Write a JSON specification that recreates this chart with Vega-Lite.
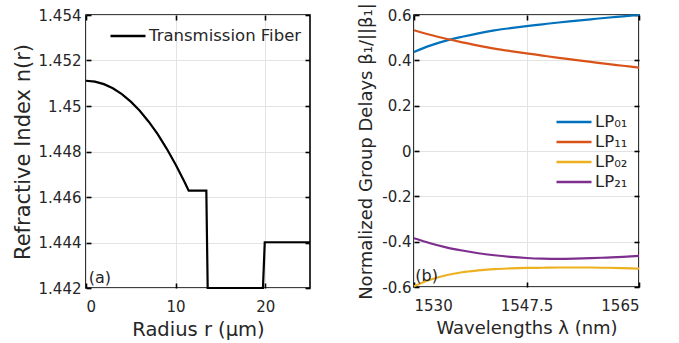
{
  "$schema": "https://vega.github.io/schema/vega-lite/v6.json",
  "padding": {"left": 11, "top": 1, "right": 0, "bottom": 0},
  "background": "white",
  "spacing": 40,
  "resolve": {"scale": {"color": "independent"}, "legend": {"color": "independent"}},
  "config": {
    "font": "DejaVu Sans",
    "view": {"stroke": "#000000", "strokeWidth": 1.6},
    "axis": {
      "labelFont": "DejaVu Sans",
      "labelFontSize": 15,
      "labelColor": "#262626",
      "titleFont": "DejaVu Sans",
      "titleFontSize": 18,
      "titleFontWeight": "normal",
      "titleColor": "#262626",
      "domain": false,
      "tickColor": "#000000",
      "tickSize": -5,
      "tickWidth": 1.6,
      "gridColor": "#e3e3e3",
      "gridWidth": 1
    },
    "axisX": {"labelPadding": 16, "titlePadding": 6},
    "axisY": {"labelPadding": 10, "titlePadding": 6},
    "legend": {
      "orient": "none",
      "title": null,
      "symbolType": "stroke",
      "symbolSize": 1225,
      "symbolStrokeWidth": 2.5,
      "clipHeight": 20,
      "rowPadding": 0,
      "labelFont": "DejaVu Sans",
      "labelFontSize": 16.5,
      "labelColor": "#262626",
      "labelOffset": 2
    }
  },
  "hconcat": [
    {
      "width": 224,
      "height": 273,
      "resolve": {"axis": {"x": "independent", "y": "independent"}},
      "layer": [
        {
          "data": {"values": [
            {"r": 0, "n": 1.45111, "series": "Transmission Fiber"},
            {"r": 1, "n": 1.45107, "series": "Transmission Fiber"},
            {"r": 2, "n": 1.45096, "series": "Transmission Fiber"},
            {"r": 3, "n": 1.45078, "series": "Transmission Fiber"},
            {"r": 4, "n": 1.45052, "series": "Transmission Fiber"},
            {"r": 5, "n": 1.45019, "series": "Transmission Fiber"},
            {"r": 6, "n": 1.44979, "series": "Transmission Fiber"},
            {"r": 7, "n": 1.44931, "series": "Transmission Fiber"},
            {"r": 8, "n": 1.44876, "series": "Transmission Fiber"},
            {"r": 9, "n": 1.44813, "series": "Transmission Fiber"},
            {"r": 10, "n": 1.44743, "series": "Transmission Fiber"},
            {"r": 11, "n": 1.44666, "series": "Transmission Fiber"},
            {"r": 11.46, "n": 1.44628, "series": "Transmission Fiber"},
            {"r": 13.43, "n": 1.44628, "series": "Transmission Fiber"},
            {"r": 13.58, "n": 1.442, "series": "Transmission Fiber"},
            {"r": 19.75, "n": 1.442, "series": "Transmission Fiber"},
            {"r": 19.95, "n": 1.44401, "series": "Transmission Fiber"},
            {"r": 25, "n": 1.44401, "series": "Transmission Fiber"}
          ]},
          "mark": {"type": "line", "strokeWidth": 2.2, "strokeJoin": "miter"},
          "encoding": {
            "x": {"field": "r", "type": "quantitative", "scale": {"domain": [0, 25], "nice": false, "zero": false},
                  "axis": {"values": [0, 10, 20], "title": "Radius r (μm)", "titleFontSize": 19.5, "grid": true}},
            "y": {"field": "n", "type": "quantitative", "scale": {"domain": [1.442, 1.454], "nice": false, "zero": false},
                  "axis": {"values": [1.442, 1.444, 1.446, 1.448, 1.45, 1.452, 1.454], "labelExpr": "format(datum.value, '.4~f')", "title": "Refractive Index n(r)", "titleFontSize": 21, "titlePadding": 5, "grid": true}},
            "color": {"field": "series", "type": "nominal", "scale": {"range": ["#000000"]},
                      "legend": {"legendX": 23, "legendY": 11}}
          }
        },
        {
          "data": {"values": [{"r": 0.3, "n": 1.4421, "label": "(a)"}]},
          "mark": {"type": "text", "align": "left", "baseline": "bottom", "fontSize": 16, "color": "#262626"},
          "encoding": {
            "x": {"field": "r", "type": "quantitative", "axis": {"orient": "top", "values": [0, 10, 20], "labels": false, "title": null, "grid": false}},
            "y": {"field": "n", "type": "quantitative", "axis": {"orient": "right", "values": [1.442, 1.444, 1.446, 1.448, 1.45, 1.452, 1.454], "labels": false, "title": null, "grid": false}},
            "text": {"field": "label"}
          }
        }
      ]
    },
    {
      "width": 225,
      "height": 272,
      "resolve": {"axis": {"x": "independent", "y": "independent"}},
      "layer": [
        {
          "data": {"values": [
            {"lambda": 1530, "mode": "LP₀₁", "d": 0.437},
            {"lambda": 1532.5, "mode": "LP₀₁", "d": 0.465},
            {"lambda": 1535, "mode": "LP₀₁", "d": 0.487},
            {"lambda": 1537.5, "mode": "LP₀₁", "d": 0.504},
            {"lambda": 1540, "mode": "LP₀₁", "d": 0.519},
            {"lambda": 1542.5, "mode": "LP₀₁", "d": 0.532},
            {"lambda": 1545, "mode": "LP₀₁", "d": 0.542},
            {"lambda": 1547.5, "mode": "LP₀₁", "d": 0.551},
            {"lambda": 1550, "mode": "LP₀₁", "d": 0.559},
            {"lambda": 1552.5, "mode": "LP₀₁", "d": 0.567},
            {"lambda": 1555, "mode": "LP₀₁", "d": 0.574},
            {"lambda": 1557.5, "mode": "LP₀₁", "d": 0.581},
            {"lambda": 1560, "mode": "LP₀₁", "d": 0.588},
            {"lambda": 1562.5, "mode": "LP₀₁", "d": 0.594},
            {"lambda": 1565, "mode": "LP₀₁", "d": 0.600},
            {"lambda": 1530, "mode": "LP₁₁", "d": 0.533},
            {"lambda": 1532.5, "mode": "LP₁₁", "d": 0.513},
            {"lambda": 1535, "mode": "LP₁₁", "d": 0.495},
            {"lambda": 1537.5, "mode": "LP₁₁", "d": 0.479},
            {"lambda": 1540, "mode": "LP₁₁", "d": 0.465},
            {"lambda": 1542.5, "mode": "LP₁₁", "d": 0.452},
            {"lambda": 1545, "mode": "LP₁₁", "d": 0.441},
            {"lambda": 1547.5, "mode": "LP₁₁", "d": 0.431},
            {"lambda": 1550, "mode": "LP₁₁", "d": 0.421},
            {"lambda": 1552.5, "mode": "LP₁₁", "d": 0.411},
            {"lambda": 1555, "mode": "LP₁₁", "d": 0.402},
            {"lambda": 1557.5, "mode": "LP₁₁", "d": 0.393},
            {"lambda": 1560, "mode": "LP₁₁", "d": 0.384},
            {"lambda": 1562.5, "mode": "LP₁₁", "d": 0.376},
            {"lambda": 1565, "mode": "LP₁₁", "d": 0.368},
            {"lambda": 1530, "mode": "LP₀₂", "d": -0.597},
            {"lambda": 1532.5, "mode": "LP₀₂", "d": -0.568},
            {"lambda": 1535, "mode": "LP₀₂", "d": -0.548},
            {"lambda": 1537.5, "mode": "LP₀₂", "d": -0.535},
            {"lambda": 1540, "mode": "LP₀₂", "d": -0.527},
            {"lambda": 1542.5, "mode": "LP₀₂", "d": -0.521},
            {"lambda": 1545, "mode": "LP₀₂", "d": -0.518},
            {"lambda": 1547.5, "mode": "LP₀₂", "d": -0.516},
            {"lambda": 1550, "mode": "LP₀₂", "d": -0.515},
            {"lambda": 1552.5, "mode": "LP₀₂", "d": -0.514},
            {"lambda": 1555, "mode": "LP₀₂", "d": -0.514},
            {"lambda": 1557.5, "mode": "LP₀₂", "d": -0.514},
            {"lambda": 1560, "mode": "LP₀₂", "d": -0.515},
            {"lambda": 1562.5, "mode": "LP₀₂", "d": -0.517},
            {"lambda": 1565, "mode": "LP₀₂", "d": -0.519},
            {"lambda": 1530, "mode": "LP₂₁", "d": -0.385},
            {"lambda": 1532.5, "mode": "LP₂₁", "d": -0.407},
            {"lambda": 1535, "mode": "LP₂₁", "d": -0.425},
            {"lambda": 1537.5, "mode": "LP₂₁", "d": -0.439},
            {"lambda": 1540, "mode": "LP₂₁", "d": -0.451},
            {"lambda": 1542.5, "mode": "LP₂₁", "d": -0.460},
            {"lambda": 1545, "mode": "LP₂₁", "d": -0.467},
            {"lambda": 1547.5, "mode": "LP₂₁", "d": -0.472},
            {"lambda": 1550, "mode": "LP₂₁", "d": -0.475},
            {"lambda": 1552.5, "mode": "LP₂₁", "d": -0.476},
            {"lambda": 1555, "mode": "LP₂₁", "d": -0.475},
            {"lambda": 1557.5, "mode": "LP₂₁", "d": -0.473},
            {"lambda": 1560, "mode": "LP₂₁", "d": -0.470},
            {"lambda": 1562.5, "mode": "LP₂₁", "d": -0.467},
            {"lambda": 1565, "mode": "LP₂₁", "d": -0.463}
          ]},
          "mark": {"type": "line", "strokeWidth": 2.2, "interpolate": "monotone"},
          "encoding": {
            "x": {"field": "lambda", "type": "quantitative", "scale": {"domain": [1530, 1565], "nice": false, "zero": false},
                  "axis": {"values": [1530, 1547.5, 1565], "labelExpr": "datum.value + ''", "title": "Wavelengths λ (nm)", "grid": true}},
            "y": {"field": "d", "type": "quantitative", "scale": {"domain": [-0.6, 0.6], "nice": false, "zero": false},
                  "axis": {"values": [-0.6, -0.4, -0.2, 0, 0.2, 0.4, 0.6], "labelExpr": "datum.value == 0 ? '0' : replace(format(datum.value, '.1f'), '−', '-')", "title": "Normalized Group Delays β₁/||β₁|", "grid": true, "labelPadding": 8}},
            "color": {"field": "mode", "type": "nominal",
                      "scale": {"domain": ["LP₀₁", "LP₁₁", "LP₀₂", "LP₂₁"], "range": ["#0072BD", "#D95319", "#EDB120", "#7E2F8E"]},
                      "legend": {"legendX": 141, "legendY": 97}}
          }
        },
        {
          "data": {"values": [{"lambda": 1530.2, "d": -0.587, "label": "(b)"}]},
          "mark": {"type": "text", "align": "left", "baseline": "bottom", "fontSize": 16, "color": "#262626"},
          "encoding": {
            "x": {"field": "lambda", "type": "quantitative", "axis": {"orient": "top", "values": [1530, 1547.5, 1565], "labels": false, "title": null, "grid": false}},
            "y": {"field": "d", "type": "quantitative", "axis": {"orient": "right", "values": [-0.6, -0.4, -0.2, 0, 0.2, 0.4, 0.6], "labels": false, "title": null, "grid": false}},
            "text": {"field": "label"}
          }
        }
      ]
    }
  ]
}
